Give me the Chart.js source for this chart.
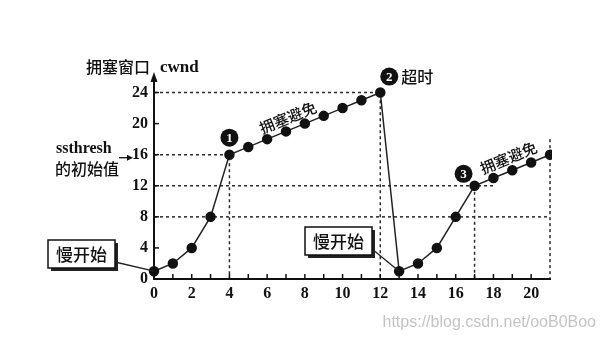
<!DOCTYPE html>
<html>
<head>
<meta charset="utf-8">
<script src="https://cdn.jsdelivr.net/npm/chart.js@4/dist/chart.umd.min.js"></script>
<style>
  html, body { margin: 0; padding: 0; background: #fff; }
  #wrap { width: 606px; height: 341px; position: relative; }
</style>
</head>
<body>
<div id="wrap"><canvas id="cwndChart"></canvas></div>
<script>
// transmission rounds and congestion window (MSS)
const rounds = [0, 1, 2, 3, 4, 5, 6, 7, 8, 9, 10, 11, 12, 13, 14, 15, 16, 17, 18, 19, 20, 21];
const cwnd = [1, 2, 4, 8, 16, 17, 18, 19, 20, 21, 22, 23, 24, 1, 2, 4, 8, 12, 13, 14, 15, 16];

// dotted guide lines (round, cwnd)
const guideRounds = [[0, 12, 12], [0, 4, 4], [0, 18], [0, 21], [17, 17], [21, 21]];
const guideCwnd = [[24, 24, 0], [16, 16, 0], [12, 12], [8, 8], [12, 0], [18, 0]];

const yTicks = [0, 4, 8, 12, 16, 20, 24];
const xTickStep = 2;

const CJK = '"Noto Sans CJK SC", "Noto Sans", sans-serif';
const SERIF = '"Liberation Serif", "DejaVu Serif", serif';

let mainPoints = rounds.map((r, i) => ({ x: r, y: cwnd[i] }));

let guideSets = guideRounds.map(function (xs, i) {
  return {
    data: xs.map((v, j) => ({ x: v, y: guideCwnd[i][j] })),
    showLine: true,
    borderColor: '#2a2a2a',
    borderWidth: 1.5,
    borderDash: [3, 3],
    pointRadius: 0,
    clip: false
  };
});

function circledNum(ctx, cx, cy, n) {
  ctx.beginPath();
  ctx.arc(cx, cy, 9, 0, Math.PI * 2);
  ctx.fillStyle = '#111';
  ctx.fill();
  ctx.fillStyle = '#fff';
  ctx.font = 'bold 13px ' + SERIF;
  ctx.textAlign = 'center';
  ctx.textBaseline = 'middle';
  ctx.fillText(String(n), cx, cy + 1);
}

function slowStartBox(ctx, px, py, bx, by) {
  const w = 67, h = 28;
  // leader line
  ctx.strokeStyle = '#222';
  ctx.lineWidth = 1.3;
  ctx.beginPath();
  ctx.moveTo(bx + w, by + h - 6);
  ctx.lineTo(px, py);
  ctx.stroke();
  // shadow
  ctx.fillStyle = '#222';
  ctx.fillRect(bx + 3, by + 3, w, h);
  ctx.fillStyle = '#fff';
  ctx.fillRect(bx, by, w, h);
  ctx.strokeStyle = '#111';
  ctx.lineWidth = 1.5;
  ctx.strokeRect(bx, by, w, h);
  ctx.fillStyle = '#111';
  ctx.font = '500 17px ' + CJK;
  ctx.textAlign = 'center';
  ctx.textBaseline = 'middle';
  ctx.fillText('慢开始', bx + w / 2, by + h / 2 + 1);
}

function rotatedLabel(ctx, xs, ys, at, text, lift) {
  const x0 = xs.getPixelForValue(Math.floor(at)), x1 = xs.getPixelForValue(Math.floor(at) + 1);
  const i = rounds.indexOf(Math.floor(at));
  const y0 = ys.getPixelForValue(cwnd[i]), y1 = ys.getPixelForValue(cwnd[i + 1]);
  const t = at - Math.floor(at);
  const cx = x0 + (x1 - x0) * t, cy = y0 + (y1 - y0) * t - lift;
  ctx.save();
  ctx.translate(cx, cy);
  ctx.rotate(Math.atan2(y1 - y0, x1 - x0));
  ctx.fillStyle = '#111';
  ctx.font = '500 15px ' + CJK;
  ctx.textAlign = 'center';
  ctx.textBaseline = 'middle';
  ctx.fillText(text, 0, 0);
  ctx.restore();
}

const decorations = {
  id: 'decorations',
  afterDraw(chart) {
    const ctx = chart.ctx;
    const xs = chart.scales.x, ys = chart.scales.y;
    const L = xs.left, B = ys.bottom, T = ys.top;
    ctx.save();

    // arrow on y axis
    ctx.fillStyle = '#111';
    ctx.beginPath();
    ctx.moveTo(L, T - 5);
    ctx.lineTo(L - 3.5, T + 5);
    ctx.lineTo(L + 3.5, T + 5);
    ctx.closePath();
    ctx.fill();

    // inner tick marks
    ctx.strokeStyle = '#111';
    ctx.lineWidth = 1.5;
    xs.ticks.forEach(function (t) {
      if (t.value <= 0 || t.value > rounds[rounds.length - 1] - 1) return;
      const px = xs.getPixelForValue(t.value);
      ctx.beginPath();
      ctx.moveTo(px, B);
      ctx.lineTo(px, B - 5);
      ctx.stroke();
    });
    yTicks.forEach(function (v) {
      if (v === 0) return;
      const py = ys.getPixelForValue(v);
      ctx.beginPath();
      ctx.moveTo(L, py);
      ctx.lineTo(L + 5, py);
      ctx.stroke();
    });

    // axis title
    ctx.fillStyle = '#111';
    ctx.textBaseline = 'alphabetic';
    ctx.textAlign = 'left';
    ctx.font = '500 16px ' + CJK;
    ctx.fillText('拥塞窗口', 86, 73);
    ctx.font = 'bold 17px ' + SERIF;
    ctx.fillText('cwnd', 160, 72);

    // ssthresh note
    const y16 = ys.getPixelForValue(16);
    ctx.textBaseline = 'middle';
    ctx.font = 'bold 16px ' + SERIF;
    ctx.fillText('ssthresh', 56, y16 - 6);
    ctx.font = '500 16px ' + CJK;
    ctx.fillText('的初始值', 55, y16 + 14);
    ctx.lineWidth = 1.3;
    ctx.beginPath();
    ctx.moveTo(119, y16 + 3);
    ctx.lineTo(131, y16 + 3);
    ctx.stroke();
    ctx.beginPath();
    ctx.moveTo(133, y16 + 3);
    ctx.lineTo(127, y16);
    ctx.lineTo(127, y16 + 6);
    ctx.closePath();
    ctx.fill();

    // circled markers
    const p1x = xs.getPixelForValue(4), p1y = ys.getPixelForValue(16);
    circledNum(ctx, p1x, p1y - 17, 1);
    const p2x = xs.getPixelForValue(12), p2y = ys.getPixelForValue(24);
    circledNum(ctx, p2x + 9, p2y - 16, 2);
    ctx.fillStyle = '#111';
    ctx.font = '500 16px ' + CJK;
    ctx.textAlign = 'left';
    ctx.textBaseline = 'middle';
    ctx.fillText('超时', p2x + 21, p2y - 16);
    const p3x = xs.getPixelForValue(17), p3y = ys.getPixelForValue(12);
    circledNum(ctx, p3x - 11, p3y - 12, 3);

    rotatedLabel(ctx, xs, ys, 7.1, '拥塞避免', 13);
    rotatedLabel(ctx, xs, ys, 18.8, '拥塞避免', 14);

    // slow start boxes
    const s1x = xs.getPixelForValue(0), s1y = ys.getPixelForValue(1);
    slowStartBox(ctx, s1x, s1y, 48, 240);
    const s2x = xs.getPixelForValue(13), s2y = ys.getPixelForValue(1);
    slowStartBox(ctx, s2x, s2y, 305, 227);

    // watermark
    ctx.fillStyle = 'rgba(190,190,190,0.9)';
    ctx.font = '16px "Liberation Sans", Arial, sans-serif';
    ctx.textAlign = 'right';
    ctx.textBaseline = 'middle';
    ctx.fillText('https://blog.csdn.net/ooB0Boo', 596, 323);

    ctx.restore();
  }
};

new Chart(document.getElementById('cwndChart'), {
  type: 'scatter',
  data: {
    datasets: [{
      data: mainPoints,
      showLine: true,
      borderColor: '#222',
      borderWidth: 1.5,
      pointRadius: 4.5,
      pointBackgroundColor: '#111',
      pointBorderColor: '#111',
      clip: { left: 10, right: 2, top: 10, bottom: 10 }
    }].concat(guideSets)
  },
  options: {
    responsive: true,
    maintainAspectRatio: false,
    animation: false,
    events: [],
    layout: { padding: { top: 77, right: 56, bottom: 0, left: 0 } },
    plugins: { legend: { display: false }, tooltip: { enabled: false } },
    scales: {
      x: {
        type: 'linear',
        min: 0,
        max: 21,
        grid: { display: false, drawTicks: false },
        border: { display: true, color: '#111', width: 2 },
        ticks: {
          stepSize: 1,
          autoSkip: false,
          maxRotation: 0,
          padding: 5,
          color: '#111',
          font: { family: SERIF, size: 16, weight: 'bold' },
          callback: v => (v % xTickStep === 0 ? v : '')
        },
        afterFit: s => { s.height = 62; }
      },
      y: {
        min: 0,
        max: 26,
        grid: { display: false, drawTicks: false },
        border: { display: true, color: '#111', width: 2 },
        afterBuildTicks: s => { s.ticks = yTicks.map(v => ({ value: v })); },
        ticks: {
          autoSkip: false,
          padding: 6,
          color: '#111',
          font: { family: SERIF, size: 16, weight: 'bold' }
        },
        afterFit: s => { s.width = 154; }
      }
    }
  },
  plugins: [decorations]
});
</script>
</body>
</html>
